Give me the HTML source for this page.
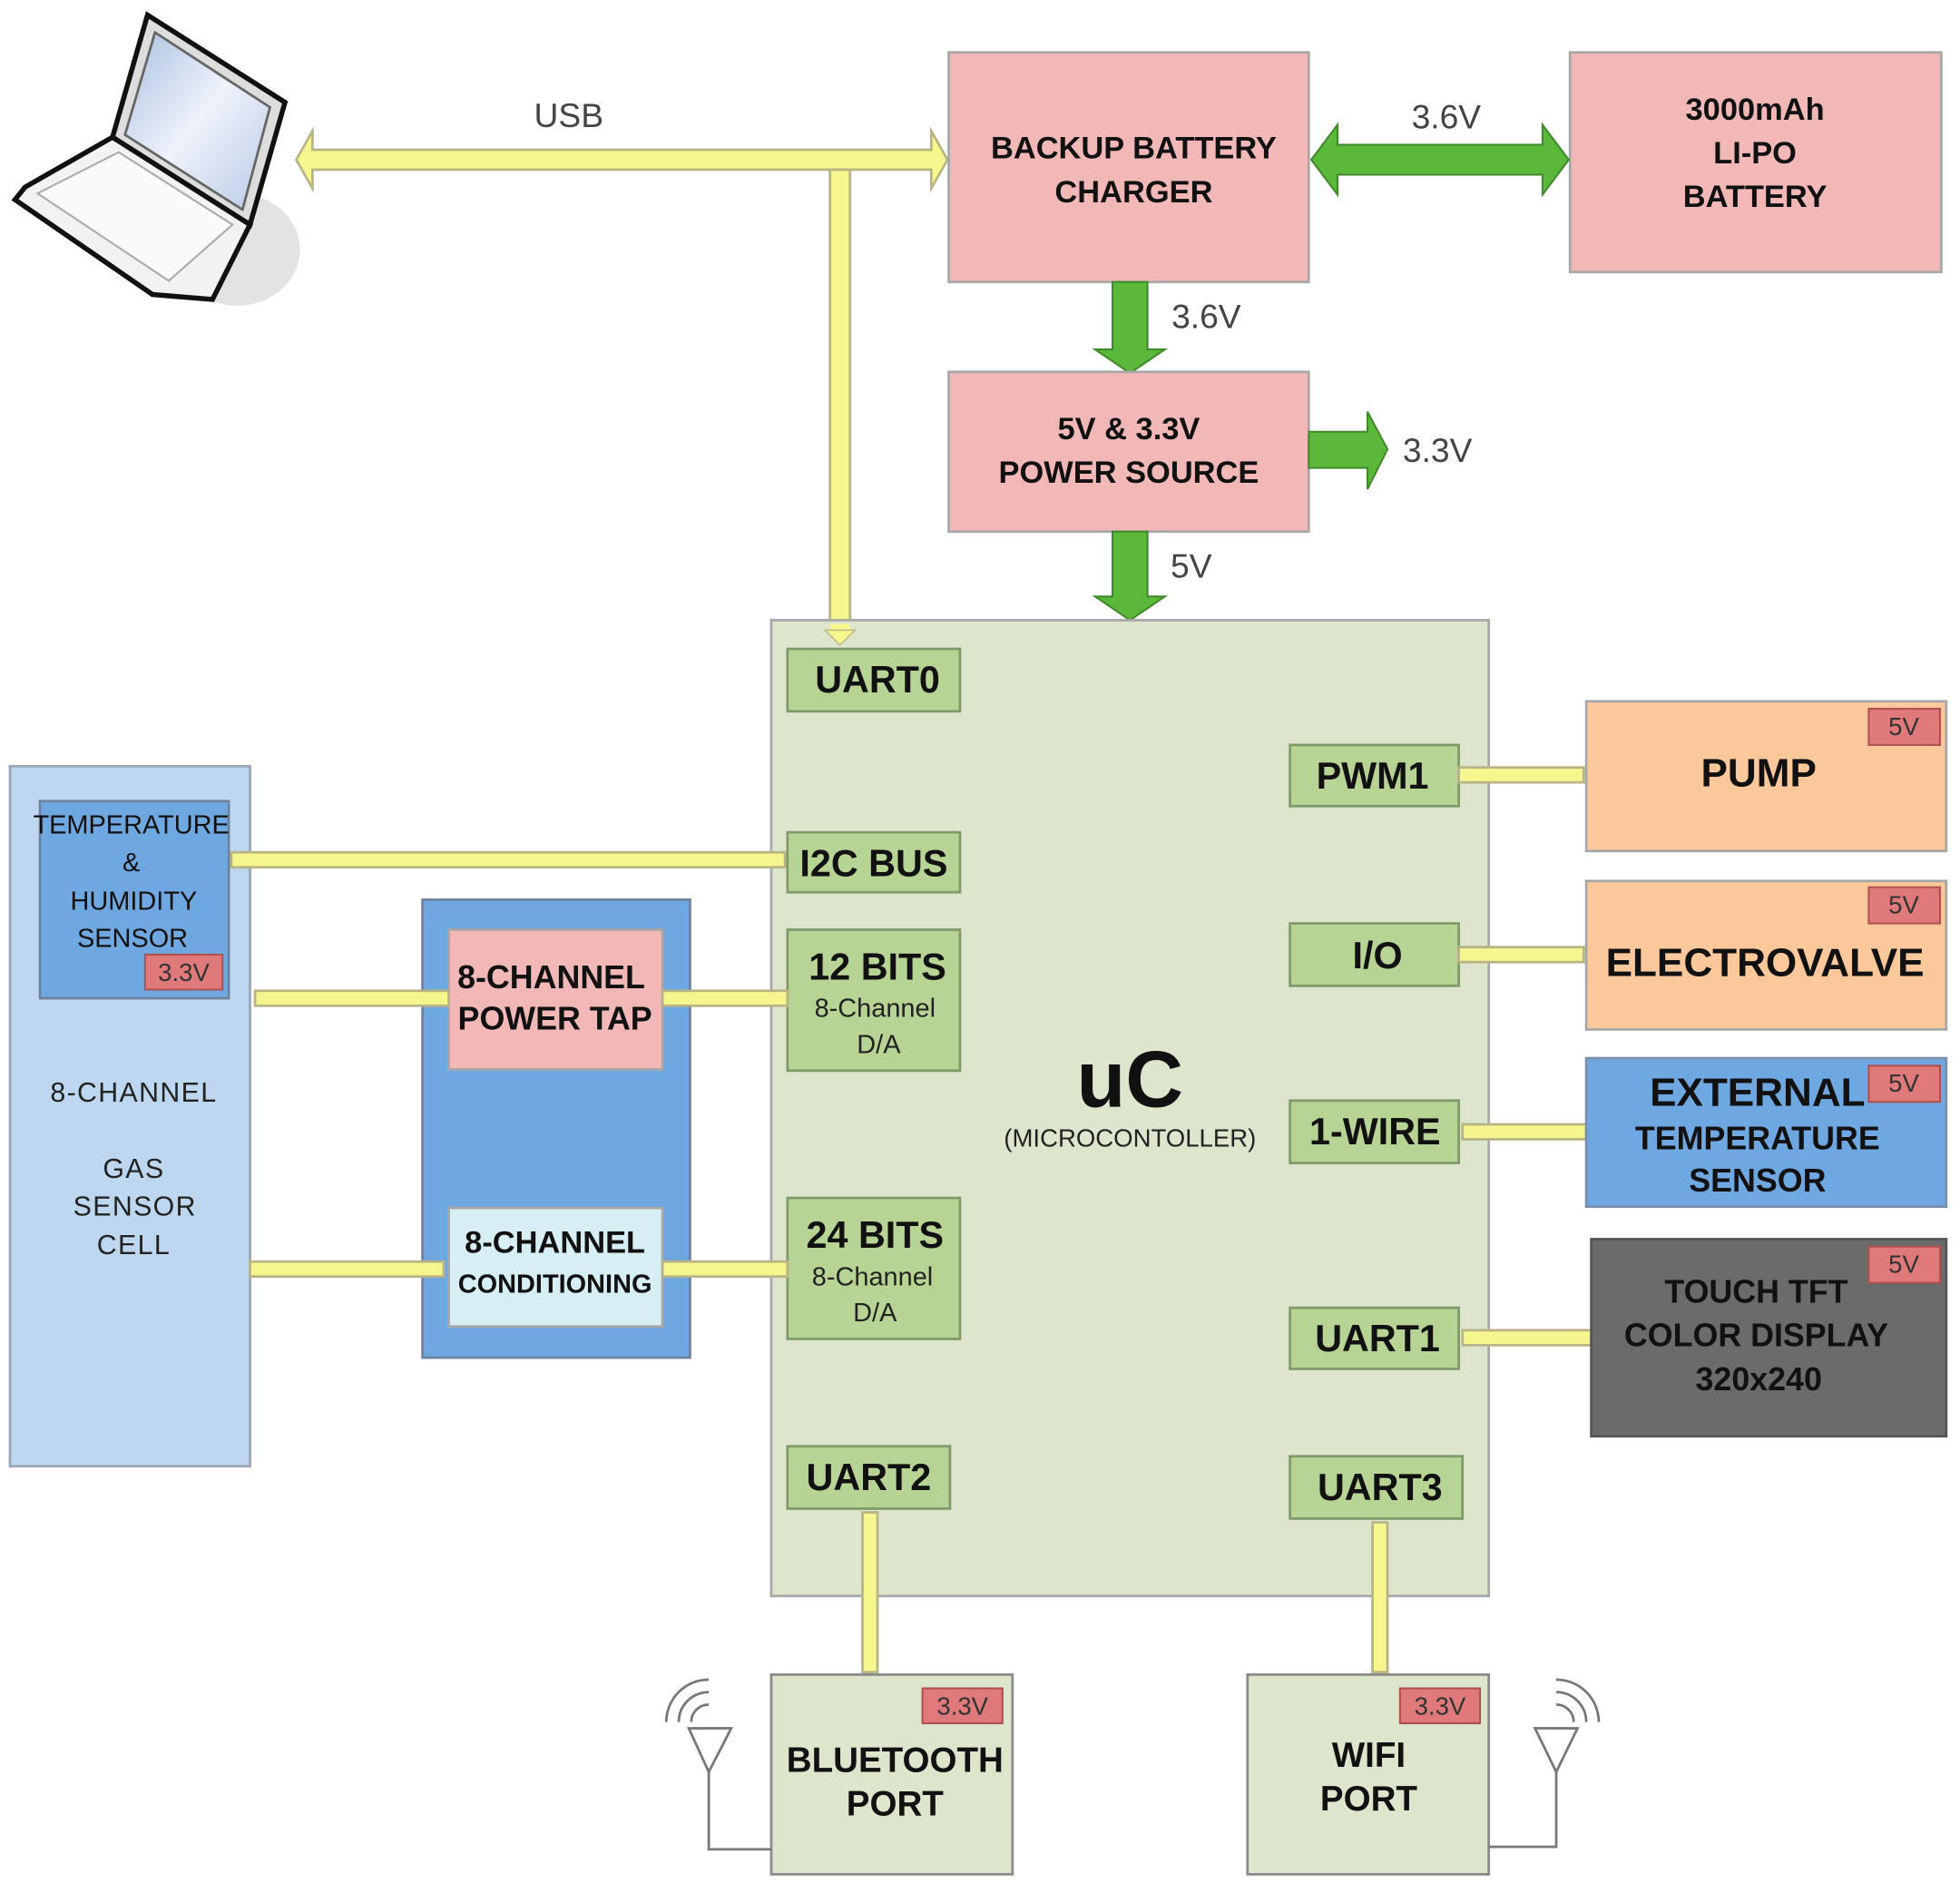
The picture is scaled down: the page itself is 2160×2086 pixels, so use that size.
<!DOCTYPE html>
<html><head><meta charset="utf-8"><style>
html,body{margin:0;padding:0;background:#fff;}
svg{display:block}
text{font-family:"Liberation Sans",sans-serif;}
.b{font-weight:bold;fill:#111;}
</style></head><body>
<svg width="2160" height="2086" viewBox="0 0 1568 1517" preserveAspectRatio="none" xmlns="http://www.w3.org/2000/svg">
<defs>
<linearGradient id="scr" x1="0" y1="0" x2="1" y2="1"><stop offset="0" stop-color="#a9bfe0"/><stop offset="0.5" stop-color="#eef2fb"/><stop offset="1" stop-color="#b8c9e6"/></linearGradient>
</defs>
<!-- laptop -->
<ellipse cx="190" cy="200" rx="50" ry="45" fill="#e3e3e3"/>
<polygon points="90,110 118,12 228,82 200,180" fill="#ddd" stroke="#111" stroke-width="4"/>
<polygon points="100,108 124,26 216,86 194,168" fill="url(#scr)" stroke="#666" stroke-width="2"/>
<polygon points="90,110 200,180 170,240 122,236 12,160 20,150" fill="#f2f2f2" stroke="#111" stroke-width="4"/>
<polygon points="30,155 95,122 186,180 135,225" fill="#fafafa" stroke="#aaa" stroke-width="1.5"/>
<!-- USB yellow -->
<polygon points="237,128 250,105 250,120 745,120 745,105 758,128 745,151 745,136 250,136 250,151" fill="#f6f68e" stroke="#b9b486" stroke-width="2"/>
<rect x="664" y="136" width="16" height="370" fill="#f6f68e" stroke="#b9b486" stroke-width="2"/>
<polygon points="660,505 684,505 672,517" fill="#f6f68e" stroke="#b9b486" stroke-width="1"/>
<text x="455" y="102" font-size="27" text-anchor="middle" fill="#444">USB</text>
<!-- top pink -->
<rect x="759" y="42" width="288" height="184" fill="#f2b8b8" stroke="#a7a7a7" stroke-width="2"/>
<text x="907" y="127" font-size="25" class="b" text-anchor="middle">BACKUP BATTERY</text>
<text x="907" y="162" font-size="25" class="b" text-anchor="middle">CHARGER</text>
<rect x="1256" y="42" width="297" height="176" fill="#f2b8b8" stroke="#a7a7a7" stroke-width="2"/>
<text x="1404" y="96" font-size="25" class="b" text-anchor="middle">3000mAh</text>
<text x="1404" y="131" font-size="25" class="b" text-anchor="middle">LI-PO</text>
<text x="1404" y="166" font-size="25" class="b" text-anchor="middle">BATTERY</text>
<!-- green arrows -->
<polygon points="1049,128 1070,100 1070,116 1234,116 1234,100 1255,128 1234,156 1234,140 1070,140 1070,156" fill="#5cb83a" stroke="#3f8a2a" stroke-width="1.5"/>
<text x="1157" y="103" font-size="27" text-anchor="middle" fill="#444">3.6V</text>
<polygon points="890,226 918,226 918,280 932,280 904,299 876,280 890,280" fill="#5cb83a" stroke="#3f8a2a" stroke-width="1.5"/>
<text x="965" y="263" font-size="27" text-anchor="middle" fill="#444">3.6V</text>
<rect x="759" y="298" width="288" height="128" fill="#f2b8b8" stroke="#a7a7a7" stroke-width="2"/>
<text x="903" y="352" font-size="25" class="b" text-anchor="middle">5V &amp; 3.3V</text>
<text x="903" y="387" font-size="25" class="b" text-anchor="middle">POWER SOURCE</text>
<polygon points="1047,346 1094,346 1094,330 1110,360 1094,392 1094,375 1047,375" fill="#5cb83a" stroke="#3f8a2a" stroke-width="1.5"/>
<text x="1150" y="370" font-size="27" text-anchor="middle" fill="#444">3.3V</text>
<polygon points="890,426 918,426 918,478 932,478 904,497 876,478 890,478" fill="#5cb83a" stroke="#3f8a2a" stroke-width="1.5"/>
<text x="953" y="463" font-size="27" text-anchor="middle" fill="#444">5V</text>
<!-- uC -->
<rect x="617" y="497" width="574" height="782" fill="#dde5cc" stroke="#a8a8a8" stroke-width="2"/>
<rect x="664" y="500" width="16" height="10" fill="#f6f68e"/>
<polygon points="660,505 684,505 672,517" fill="#f6f68e" stroke="#b9b486" stroke-width="1"/>
<text x="904" y="887" font-size="64" class="b" text-anchor="middle">uC</text>
<text x="904" y="919" font-size="20" text-anchor="middle" fill="#222">(MICROCONTOLLER)</text>
<g fill="#b8d494" stroke="#7f9a6a" stroke-width="2">
<rect x="630" y="520" width="138" height="50"/>
<rect x="630" y="667" width="138" height="48"/>
<rect x="630" y="745" width="138" height="113"/>
<rect x="630" y="960" width="138" height="113"/>
<rect x="630" y="1159" width="130" height="50"/>
<rect x="1032" y="597" width="135" height="49"/>
<rect x="1032" y="740" width="135" height="50"/>
<rect x="1032" y="882" width="135" height="50"/>
<rect x="1032" y="1048" width="135" height="49"/>
<rect x="1032" y="1167" width="138" height="50"/>
</g>
<g font-size="30" class="b" text-anchor="middle">
<text x="702" y="555">UART0</text>
<text x="699" y="702">I2C BUS</text>
<text x="702" y="785">12 BITS</text>
<text x="700" y="1000">24 BITS</text>
<text x="695" y="1194">UART2</text>
<text x="1098" y="632">PWM1</text>
<text x="1102" y="776">I/O</text>
<text x="1100" y="917">1-WIRE</text>
<text x="1102" y="1083">UART1</text>
<text x="1104" y="1202">UART3</text>
</g>
<g font-size="21" text-anchor="middle" fill="#222">
<text x="700" y="815">8-Channel</text><text x="703" y="844">D/A</text>
<text x="698" y="1030">8-Channel</text><text x="700" y="1059">D/A</text>
</g>
<!-- right side -->
<g fill="#f6f68e" stroke="#b9b486" stroke-width="2">
<rect x="1167" y="615" width="100" height="12"/>
<rect x="1167" y="759" width="100" height="12"/>
<rect x="1170" y="901" width="99" height="12"/>
<rect x="1170" y="1066" width="103" height="12"/>
</g>
<rect x="1269" y="562" width="288" height="120" fill="#fbc89c" stroke="#a7a7a7" stroke-width="2"/>
<text x="1407" y="630" font-size="32" class="b" text-anchor="middle">PUMP</text>
<rect x="1269" y="706" width="288" height="119" fill="#fbc89c" stroke="#a7a7a7" stroke-width="2"/>
<text x="1412" y="782" font-size="32" class="b" text-anchor="middle">ELECTROVALVE</text>
<rect x="1269" y="848" width="288" height="119" fill="#6fa8e0" stroke="#7a8fb0" stroke-width="2"/>
<text x="1406" y="886" font-size="32" class="b" text-anchor="middle">EXTERNAL</text>
<text x="1406" y="921" font-size="26" class="b" text-anchor="middle">TEMPERATURE</text>
<text x="1406" y="955" font-size="26" class="b" text-anchor="middle">SENSOR</text>
<rect x="1273" y="993" width="284" height="158" fill="#6b6b6b" stroke="#555" stroke-width="2"/>
<text x="1405" y="1044" font-size="26" class="b" text-anchor="middle">TOUCH TFT</text>
<text x="1405" y="1079" font-size="26" class="b" text-anchor="middle">COLOR DISPLAY</text>
<text x="1407" y="1114" font-size="26" class="b" text-anchor="middle">320x240</text>
<g fill="#e07a7a" stroke="#b05050" stroke-width="1.5">
<rect x="1495" y="568" width="57" height="29"/>
<rect x="1495" y="711" width="57" height="29"/>
<rect x="1495" y="854" width="57" height="29"/>
<rect x="1495" y="999" width="57" height="29"/>
<rect x="116" y="765" width="62" height="28"/>
<rect x="738" y="1353" width="64" height="28"/>
<rect x="1120" y="1353" width="64" height="28"/>
</g>
<g font-size="20" text-anchor="middle" fill="#333">
<text x="1523" y="589">5V</text><text x="1523" y="732">5V</text><text x="1523" y="875">5V</text><text x="1523" y="1020">5V</text>
<text x="147" y="786">3.3V</text><text x="770" y="1374">3.3V</text><text x="1152" y="1374">3.3V</text>
</g>
<!-- left side -->
<rect x="8" y="614" width="192" height="561" fill="#bdd7f0" stroke="#9aa6b4" stroke-width="2"/>
<rect x="32" y="642" width="151" height="158" fill="#6fa8e0" stroke="#6e82a0" stroke-width="2"/>
<rect x="116" y="765" width="62" height="28" fill="#e07a7a" stroke="#b05050" stroke-width="1.5"/>
<text x="147" y="786" font-size="20" text-anchor="middle" fill="#333">3.3V</text>
<g font-size="21" text-anchor="middle" fill="#111">
<text x="105" y="668">TEMPERATURE</text><text x="105" y="698">&amp;</text><text x="107" y="729">HUMIDITY</text><text x="106" y="759">SENSOR</text>
</g>
<g font-size="22" text-anchor="middle" fill="#222" letter-spacing="1">
<text x="107" y="883">8-CHANNEL</text><text x="107" y="944">GAS</text><text x="108" y="974">SENSOR</text><text x="107" y="1005">CELL</text>
</g>
<rect x="338" y="721" width="214" height="367" fill="#6fa8e0" stroke="#6e82a0" stroke-width="2"/>
<rect x="359" y="745" width="171" height="112" fill="#f2b8b8" stroke="#a7a7a7" stroke-width="2"/>
<text x="441" y="792" font-size="26" class="b" text-anchor="middle">8-CHANNEL</text>
<text x="444" y="825" font-size="26" class="b" text-anchor="middle">POWER TAP</text>
<rect x="359" y="968" width="171" height="95" fill="#d6eef4" stroke="#a7a7a7" stroke-width="2"/>
<text x="444" y="1004" font-size="25" class="b" text-anchor="middle">8-CHANNEL</text>
<text x="444" y="1036" font-size="21" class="b" text-anchor="middle">CONDITIONING</text>
<g fill="#f6f68e" stroke="#b9b486" stroke-width="2">
<rect x="185" y="683" width="443" height="12"/>
<rect x="204" y="794" width="155" height="12"/>
<rect x="530" y="794" width="100" height="12"/>
<rect x="200" y="1011" width="155" height="12"/>
<rect x="530" y="1011" width="100" height="12"/>
<rect x="690" y="1212" width="12" height="128"/>
<rect x="1098" y="1220" width="12" height="120"/>
</g>
<!-- bottom ports -->
<rect x="617" y="1342" width="193" height="160" fill="#dde5cc" stroke="#8a8a8a" stroke-width="2"/>
<rect x="738" y="1353" width="64" height="28" fill="#e07a7a" stroke="#b05050" stroke-width="1.5"/>
<text x="770" y="1374" font-size="20" text-anchor="middle" fill="#333">3.3V</text>
<text x="716" y="1420" font-size="28" class="b" text-anchor="middle">BLUETOOTH</text>
<text x="716" y="1455" font-size="28" class="b" text-anchor="middle">PORT</text>
<rect x="998" y="1342" width="193" height="160" fill="#dde5cc" stroke="#8a8a8a" stroke-width="2"/>
<rect x="1120" y="1353" width="64" height="28" fill="#e07a7a" stroke="#b05050" stroke-width="1.5"/>
<text x="1152" y="1374" font-size="20" text-anchor="middle" fill="#333">3.3V</text>
<text x="1095" y="1416" font-size="28" class="b" text-anchor="middle">WIFI</text>
<text x="1095" y="1451" font-size="28" class="b" text-anchor="middle">PORT</text>
<!-- antennas -->
<g fill="none" stroke="#777" stroke-width="2">
<polyline points="567,1420 567,1482 617,1482"/>
<polygon points="551,1385 585,1385 567,1420"/>
<path d="M553,1380 a14,14 0 0 1 14,-14"/><path d="M543,1380 a24,24 0 0 1 24,-24"/><path d="M533,1380 a34,34 0 0 1 34,-34"/>
<polyline points="1245,1420 1245,1480 1191,1480"/>
<polygon points="1228,1385 1262,1385 1245,1420"/>
<path d="M1259,1380 a14,14 0 0 0 -14,-14"/><path d="M1269,1380 a24,24 0 0 0 -24,-24"/><path d="M1279,1380 a34,34 0 0 0 -34,-34"/>
</g>
</svg>
</body></html>
